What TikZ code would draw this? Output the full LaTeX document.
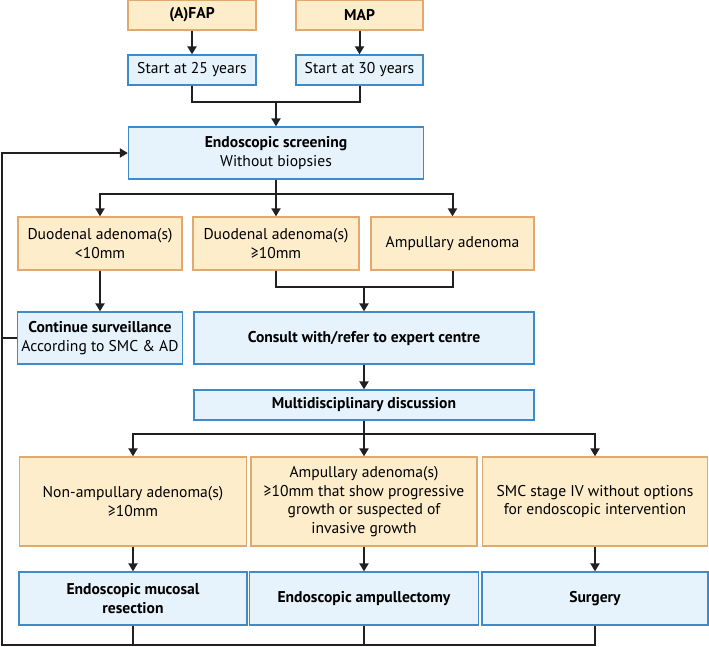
\documentclass[tikz,border=0pt]{standalone}
\usepackage{fontspec}
\setmainfont{PT Sans}
\usetikzlibrary{arrows.meta}

\definecolor{boxorange}{HTML}{FDEDCB}
\definecolor{lineorange}{HTML}{E1A96B}
\definecolor{boxblue}{HTML}{E6F3FC}
\definecolor{lineblue}{HTML}{3F8ACB}
\definecolor{linedark}{HTML}{231F20}

\begin{document}
\begin{tikzpicture}[x=1pt, y=-1pt, font=\fontsize{15.6}{18.5}\selectfont,
	every node/.style={align=center, inner sep=0pt, line width=1.3pt},
	orangebox/.style={draw=lineorange, fill=boxorange},
	bluebox/.style={draw=lineblue, fill=boxblue},
	link/.style={draw=linedark, line width=2pt},
	arr/.style={link, -{Triangle[width=9pt,length=8pt]}}]
				\useasboundingbox (0,0) rectangle (709,647);
				
				\node[orangebox, minimum width=128pt, minimum height=30pt] (fap) at (192,15){\textbf{(A)FAP}};
				\node[orangebox, minimum width=127pt, minimum height=30pt] (map) at (359.5,15){\textbf{MAP}};
				\node[bluebox, minimum width=128pt, minimum height=30pt] (s25) at (192,70){Start at 25 years};
				\node[bluebox, minimum width=127pt, minimum height=30pt] (s30) at (359.5,70){Start at 30 years};
				
				\node[bluebox, minimum width=295pt, minimum height=52pt] (screen) at (276,153){\textbf{Endoscopic screening}\\Without biopsies};
				
				\node[orangebox, minimum width=164pt, minimum height=53pt] (duo1) at (100,243.5){Duodenal adenoma(s)\\<10mm};
				\node[orangebox, minimum width=166pt, minimum height=53pt] (duo2) at (276,243.5){Duodenal adenoma(s)\\≥10mm};
				\node[orangebox, minimum width=163pt, minimum height=53pt] (amp) at (452.5,243.5){Ampullary adenoma};
				
				\node[bluebox, minimum width=165pt, minimum height=52pt] (cont) at (100,338){\textbf{Continue surveillance}\\According to SMC \& AD};
				\node[bluebox, minimum width=340pt, minimum height=52pt] (consult) at (364,338){\textbf{Consult with/refer to expert centre}};
				\node[bluebox, minimum width=340pt, minimum height=30pt] (multi) at (364,405){\textbf{Multidisciplinary discussion}};
				
				\node[orangebox, minimum width=227pt, minimum height=89pt] (nonamp) at (133,501.5){Non-ampullary adenoma(s)\\≥10mm};
				\node[orangebox, minimum width=226pt, minimum height=89pt] (ampgrow) at (364,501.5){Ampullary adenoma(s)\\≥10mm that show progressive\\growth or suspected of\\invasive growth};
				\node[orangebox, minimum width=225pt, minimum height=89pt] (smc) at (595,501.5){SMC stage IV without options\\for endoscopic intervention};
				
				\node[bluebox, minimum width=228pt, minimum height=53pt] (emr) at (133,598.5){\textbf{Endoscopic mucosal}\\\textbf{resection}};
				\node[bluebox, minimum width=229pt, minimum height=53pt] (ampul) at (364,598.5){\textbf{Endoscopic ampullectomy}};
				\node[bluebox, minimum width=226pt, minimum height=53pt] (surg) at (595,598.5){\textbf{Surgery}};
				
				\coordinate (j1) at (276,102);
				\coordinate (j2) at (276,194);
				\coordinate (j3) at (364,287);
				\coordinate (j4) at (364,434);
				\coordinate (back) at (2,645);
				
				\draw[arr] (fap) -- (s25);
				\draw[arr] (map) -- (s30);
				\draw[link] (s25.south) |- (j1) -| (s30.south);
				\draw[arr] (j1) -- (screen);
				
				\draw[link] (screen) -- (j2);
				\draw[arr] (j2) -| (duo1);
				\draw[arr] (j2) -- (duo2);
				\draw[arr] (j2) -| (amp);
				
				\draw[arr] (duo1) -- (cont);
				\draw[link] (duo2.south) |- (j3) -| (amp.south);
				\draw[arr] (j3) -- (consult);
				\draw[arr] (consult) -- (multi);
				
				\draw[link] (multi) -- (j4);
				\draw[arr] (j4) -| (nonamp);
				\draw[arr] (j4) -- (ampgrow);
				\draw[arr] (j4) -| (smc);
				
				\draw[arr] (nonamp) -- (emr);
				\draw[arr] (ampgrow) -- (ampul);
				\draw[arr] (smc) -- (surg);
				
				% way back to screening
				\draw[arr] (surg.south) |- (back) |- (screen.west);
				\draw[link] (emr.south) -- (emr.south |- back);
				\draw[link] (ampul.south) -- (ampul.south |- back);
				\draw[link] (cont.west) -- (cont.west -| back);
				\end{tikzpicture}
\end{document}
